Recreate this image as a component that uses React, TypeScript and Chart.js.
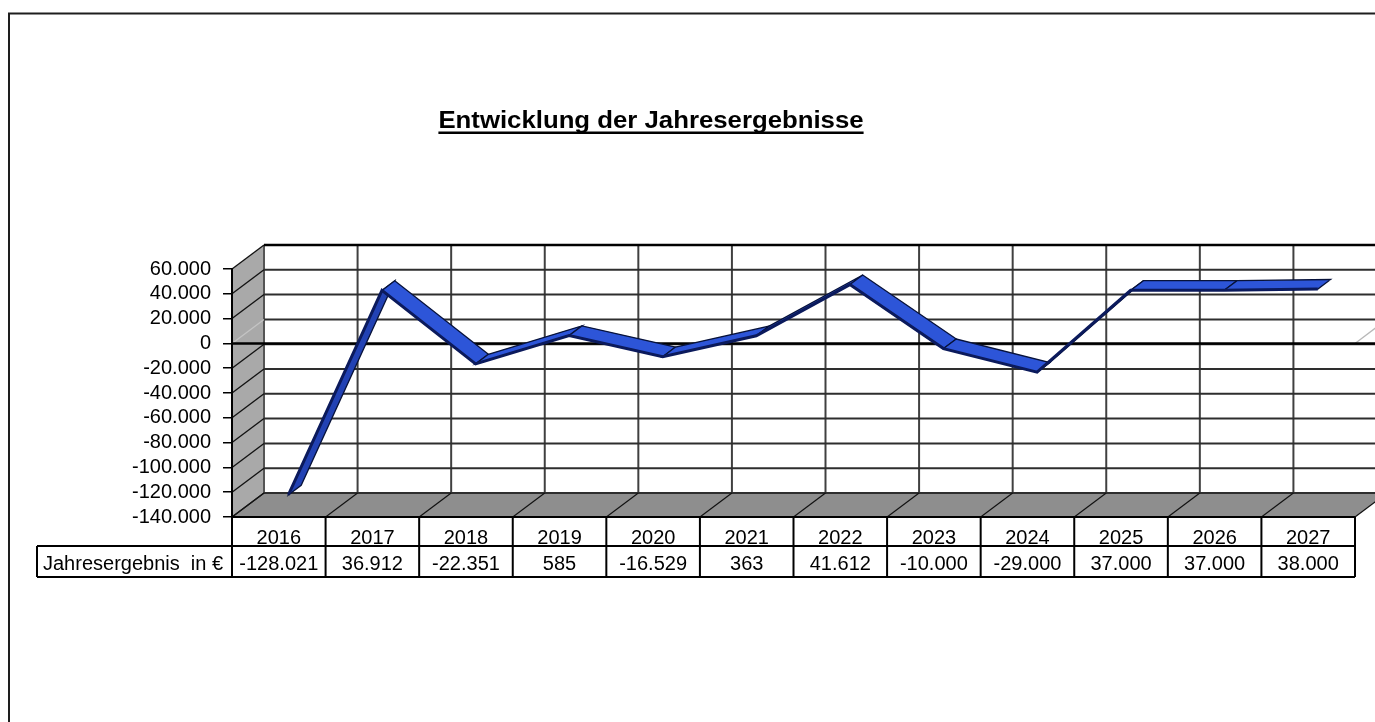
import { useEffect, useRef } from 'react';
import { Chart, registerables } from 'chart.js';

Chart.register(...registerables);

// ---- data ----
const chartTitle = 'Entwicklung der Jahresergebnisse';
const rowLabel = 'Jahresergebnis  in €';
const years = ['2016', '2017', '2018', '2019', '2020', '2021', '2022', '2023', '2024', '2025', '2026', '2027'];
const results = [-128021, 36912, -22351, 585, -16529, 363, 41612, -10000, -29000, 37000, 37000, 38000];
const yMin = -140000;
const yMax = 60000;
const yStep = 20000;

// ---- style / layout constants ----
const FONT = "'Liberation Sans', Arial, Helvetica, sans-serif";
const DX = 32; // 3D depth offset
const DY = -24;

const fmt = (v: number) => {
  const s = Math.abs(Math.round(v)).toString().replace(/\B(?=(\d{3})+(?!\d))/g, '.');
  return (v < 0 ? '-' : '') + s;
};

const excel3d = {
  id: 'excel3d',
  beforeDraw(chart: any) {
    const { ctx, chartArea } = chart;
    const xs = chart.scales.x;
    const ys = chart.scales.y;
    const { left, right, top, bottom } = chartArea;
    const n = years.length;
    ctx.save();
    // back wall
    ctx.fillStyle = '#ffffff';
    ctx.fillRect(left + DX, top + DY, right - left, bottom - top);
    // left wall
    ctx.beginPath();
    ctx.moveTo(left, top);
    ctx.lineTo(left + DX, top + DY);
    ctx.lineTo(left + DX, bottom + DY);
    ctx.lineTo(left, bottom);
    ctx.closePath();
    ctx.fillStyle = '#a9a9a9';
    ctx.fill();
    // floor
    ctx.beginPath();
    ctx.moveTo(left, bottom);
    ctx.lineTo(right, bottom);
    ctx.lineTo(right + DX, bottom + DY);
    ctx.lineTo(left + DX, bottom + DY);
    ctx.closePath();
    ctx.fillStyle = '#8e8e8e';
    ctx.fill();

    // back wall vertical grid lines at category boundaries
    ctx.strokeStyle = '#404040';
    ctx.lineWidth = 2;
    for (let k = 1; k <= n; k++) {
      const xb = xs.getPixelForValue(k - 0.5) + DX;
      ctx.beginPath();
      ctx.moveTo(xb, top + DY);
      ctx.lineTo(xb, bottom + DY);
      ctx.stroke();
    }
    // back wall left edge
    ctx.strokeStyle = '#555555';
    ctx.beginPath();
    ctx.moveTo(left + DX, top + DY);
    ctx.lineTo(left + DX, bottom + DY);
    ctx.stroke();

    // horizontal grid lines on back wall + diagonals on left wall
    ys.ticks.forEach((t: any) => {
      const y = ys.getPixelForValue(t.value);
      ctx.strokeStyle = t.value === yMax ? '#000000' : '#2e2e2e';
      ctx.lineWidth = t.value === yMax ? 2.5 : 2;
      ctx.beginPath();
      ctx.moveTo(left + DX, y + DY);
      ctx.lineTo(right + DX, y + DY);
      ctx.stroke();
      ctx.strokeStyle = t.value === 0 ? '#c4c4c4' : '#111111';
      ctx.lineWidth = 1.3;
      ctx.beginPath();
      ctx.moveTo(left, y);
      ctx.lineTo(left + DX, y + DY);
      ctx.stroke();
    });
    // right side diagonal at 0
    const y0 = ys.getPixelForValue(0);
    ctx.strokeStyle = '#b8b8b8';
    ctx.lineWidth = 1.3;
    ctx.beginPath();
    ctx.moveTo(right, y0);
    ctx.lineTo(right + DX, y0 + DY);
    ctx.stroke();

    // floor diagonals
    ctx.strokeStyle = '#111111';
    ctx.lineWidth = 1.2;
    for (let k = 0; k <= n; k++) {
      const xb = xs.getPixelForValue(k - 0.5);
      ctx.beginPath();
      ctx.moveTo(xb, bottom);
      ctx.lineTo(xb + DX, bottom + DY);
      ctx.stroke();
    }
    // zero axis line
    ctx.strokeStyle = '#000000';
    ctx.lineWidth = 2.5;
    ctx.beginPath();
    ctx.moveTo(left, y0);
    ctx.lineTo(right + DX, y0);
    ctx.stroke();
    ctx.restore();
  },
  beforeDatasetDraw(chart: any, args: any) {
    const { ctx } = chart;
    const pts = args.meta.data;
    ctx.save();
    ctx.translate(DX * 0.3, DY * 0.3);
    const dx = DX * 0.4;
    const dy = DY * 0.4;
    for (let i = 0; i < pts.length - 1; i++) {
      const a = pts[i];
      const b = pts[i + 1];
      const cross = (b.x - a.x) * dy - (b.y - a.y) * dx;
      ctx.beginPath();
      ctx.moveTo(a.x, a.y);
      ctx.lineTo(b.x, b.y);
      ctx.lineTo(b.x + dx, b.y + dy);
      ctx.lineTo(a.x + dx, a.y + dy);
      ctx.closePath();
      ctx.fillStyle = cross < 0 ? '#2d55d8' : '#2242b4';
      ctx.fill();
      ctx.strokeStyle = '#07123a';
      ctx.lineWidth = 1.3;
      ctx.stroke();
    }
  },
  afterDatasetDraw(chart: any) {
    chart.ctx.restore();
  },
  afterDraw(chart: any) {
    const { ctx, chartArea } = chart;
    const xs = chart.scales.x;
    const { right, bottom } = chartArea;
    const n = years.length;
    const r1 = bottom + 29;
    const r2 = bottom + 60;
    const labelLeft = 37;
    ctx.save();
    ctx.strokeStyle = '#000000';
    ctx.lineWidth = 2;
    const xL = xs.getPixelForValue(-0.5);
    const xR = xs.getPixelForValue(n - 0.5);
    ctx.beginPath();
    ctx.moveTo(xL, bottom);
    ctx.lineTo(xR, bottom);
    ctx.moveTo(labelLeft, r1);
    ctx.lineTo(xR, r1);
    ctx.moveTo(labelLeft, r2);
    ctx.lineTo(xR, r2);
    ctx.moveTo(labelLeft, r1);
    ctx.lineTo(labelLeft, r2);
    for (let k = 0; k <= n; k++) {
      const xb = xs.getPixelForValue(k - 0.5);
      ctx.moveTo(xb, bottom);
      ctx.lineTo(xb, r2);
    }
    ctx.stroke();
    ctx.fillStyle = '#000000';
    ctx.font = `20px ${FONT}`;
    ctx.textBaseline = 'alphabetic';
    ctx.textAlign = 'center';
    years.forEach((y, i) => {
      const cx = xs.getPixelForValue(i);
      ctx.fillText(y, cx, bottom + 26.5);
      ctx.fillText(fmt(results[i]), cx, bottom + 53);
    });
    ctx.textAlign = 'left';
    ctx.fillText(rowLabel, labelLeft + 6, bottom + 53);

    // title
    ctx.font = `bold 23px ${FONT}`;
    const w = ctx.measureText(chartTitle).width * 1.12;
    const tcx = 651;
    ctx.save();
    ctx.translate(tcx, 128);
    ctx.scale(1.12, 1);
    ctx.textAlign = 'center';
    ctx.fillText(chartTitle, 0, 0);
    ctx.restore();
    ctx.fillRect(tcx - w / 2, 131.5, w, 2.5);

    // outer frame
    ctx.strokeStyle = '#1e1e1e';
    ctx.lineWidth = 2;
    ctx.strokeRect(9, 13.5, right + 200, 900);
    ctx.restore();
  },
};

export default function App() {
  const ref = useRef<HTMLCanvasElement>(null);
  useEffect(() => {
    Chart.defaults.font.family = FONT;
    const chart = new Chart(ref.current as HTMLCanvasElement, {
      type: 'line',
      data: {
        labels: years,
        datasets: [
          {
            label: rowLabel,
            data: results,
            borderColor: '#0b1a5c',
            borderWidth: 3,
            pointRadius: 0,
            tension: 0,
            fill: false,
            clip: false as any,
          },
        ],
      },
      options: {
        animation: false,
        responsive: true,
        maintainAspectRatio: false,
        layout: { padding: { left: 132, right: 20, top: 269, bottom: 205 } },
        plugins: {
          legend: { display: false },
          tooltip: { enabled: false },
          title: { display: false },
        },
        scales: {
          x: {
            type: 'category',
            offset: true,
            display: false,
            grid: { offset: true },
          },
          y: {
            min: yMin,
            max: yMax,
            afterFit: (axis: any) => {
              axis.width = 100;
            },
            ticks: {
              stepSize: yStep,
              autoSkip: false,
              color: '#000000',
              padding: 12,
              font: { size: 20, family: FONT },
              callback: (v: any) => fmt(Number(v)),
            },
            grid: {
              drawOnChartArea: false,
              drawTicks: true,
              tickLength: 9,
              color: '#000000',
              lineWidth: 1.5,
            },
            border: { display: true, color: '#000000', width: 2 },
          },
        },
      },
      plugins: [excel3d],
    });
    return () => chart.destroy();
  }, []);
  return (
    <div style={{ position: 'fixed', left: 0, top: 0, width: 1375, height: 722, background: '#ffffff' }}>
      <canvas ref={ref} />
    </div>
  );
}
